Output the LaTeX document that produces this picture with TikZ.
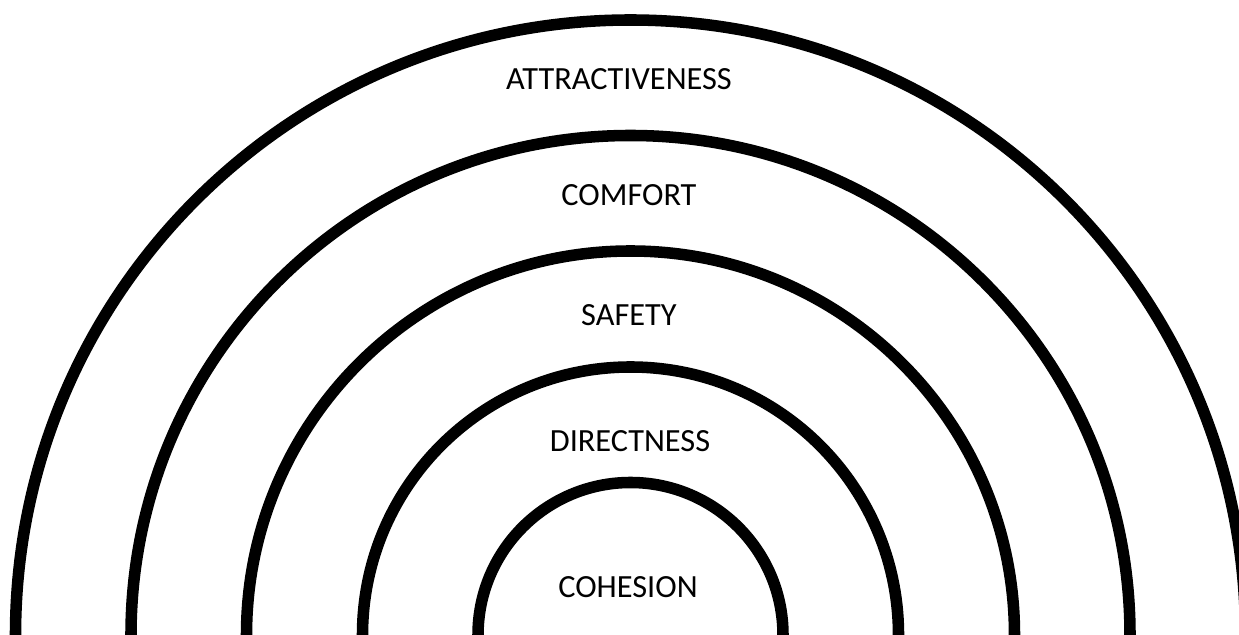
\documentclass[tikz,border=0pt]{standalone}
\usepackage{fontspec}
\setmainfont{Carlito}
\usetikzlibrary{positioning}
\tikzset{
	ring/.style={draw=black, line width=8.2pt},
	layer/.style={font=\fontsize{23}{27}\selectfont, inner sep=0pt, anchor=center},
}

\begin{document}
\begin{tikzpicture}[x=0.025cm, y=0.025cm]
	\useasboundingbox (0,0) rectangle (1239,635);
	\coordinate (base) at (630.5,0);
	\draw[ring] ([xshift=-615*0.025cm]base) arc (180:0:615*0.025cm);
	\draw[ring] ([xshift=-499.5*0.025cm]base) arc (180:0:499.5*0.025cm);
	\draw[ring] ([xshift=-384*0.025cm]base) arc (180:0:384*0.025cm);
	\draw[ring] ([xshift=-268*0.025cm]base) arc (180:0:268*0.025cm);
	\draw[ring] ([xshift=-152.5*0.025cm]base) arc (180:0:152.5*0.025cm);
	\node[layer] (attract) at (619,556) {ATTRACTIVENESS};
	\node[layer] (comfort) at (629,440) {COMFORT};
	\node[layer] (safety) at (629,320) {SAFETY};
	\node[layer] (direct) at (630,194) {DIRECTNESS};
	\node[layer] (cohesion) at (628,48) {COHESION};
\end{tikzpicture}
\end{document}
